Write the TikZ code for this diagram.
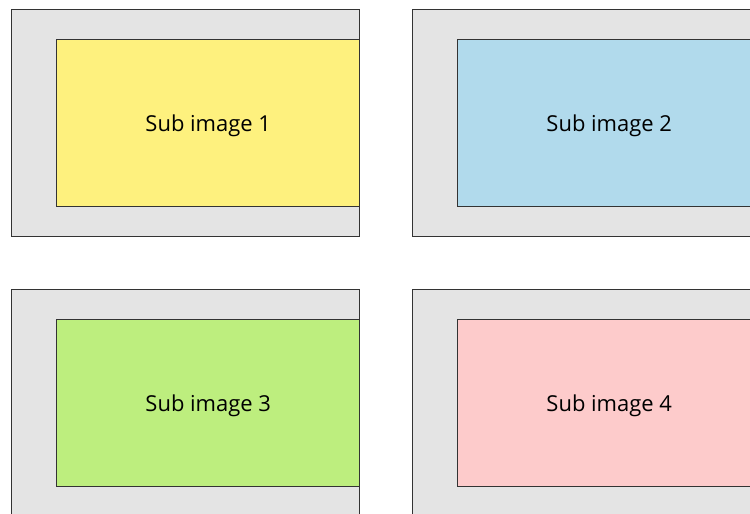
\documentclass[tikz,border=0pt]{standalone}
\usepackage{fontspec}
\setmainfont{Open Sans}
\usepackage{xcolor}
\definecolor{frameGray}{HTML}{E4E4E4}
\definecolor{edgeGray}{HTML}{333333}
\definecolor{subYellow}{HTML}{FEF17E}
\definecolor{subBlue}{HTML}{B1DAEC}
\definecolor{subGreen}{HTML}{BDEE7E}
\definecolor{subPink}{HTML}{FDCBCB}
\tikzset{
  frame/.style={draw=edgeGray, line width=0.85pt, fill=frameGray, anchor=north west,
    minimum width=6.96cm, minimum height=4.54cm, inner sep=0pt},
  subimg/.style={draw=edgeGray, line width=0.85pt, anchor=north west,
    minimum width=6.06cm, minimum height=3.34cm, inner sep=0pt, text depth=0pt,
    font=\fontsize{12.5}{14}\selectfont}
}

\begin{document}
\begin{tikzpicture}
  \def\Xa{0.22};
  \def\Xb{8.24};
  \def\Ya{-0.18};
  \def\Yb{-5.78};
  \def\dX{0.90};
  \def\dY{0.60};
        \clip (0,0) rectangle (15,-10.28);
        \useasboundingbox (0,0) rectangle (15,-10.28);

        \node[frame] (frameA) at (\Xa, \Ya) {};
        \node[subimg, fill=subYellow] (subA) at (\Xa + \dX, \Ya - \dY) {Sub image 1};

        \node[frame] (frameB) at (\Xb, \Ya) {};
        \node[subimg, fill=subBlue] (subB) at (\Xb + \dX, \Ya - \dY) {Sub image 2};

        \node[frame] (frameC) at (\Xa, \Yb) {};
        \node[subimg, fill=subGreen] (subC) at (\Xa + \dX, \Yb - \dY) {Sub image 3};

        \node[frame] (frameD) at (\Xb, \Yb) {};
        \node[subimg, fill=subPink] (subD) at (\Xb + \dX, \Yb - \dY) {Sub image 4};

\end{tikzpicture}
\end{document}
